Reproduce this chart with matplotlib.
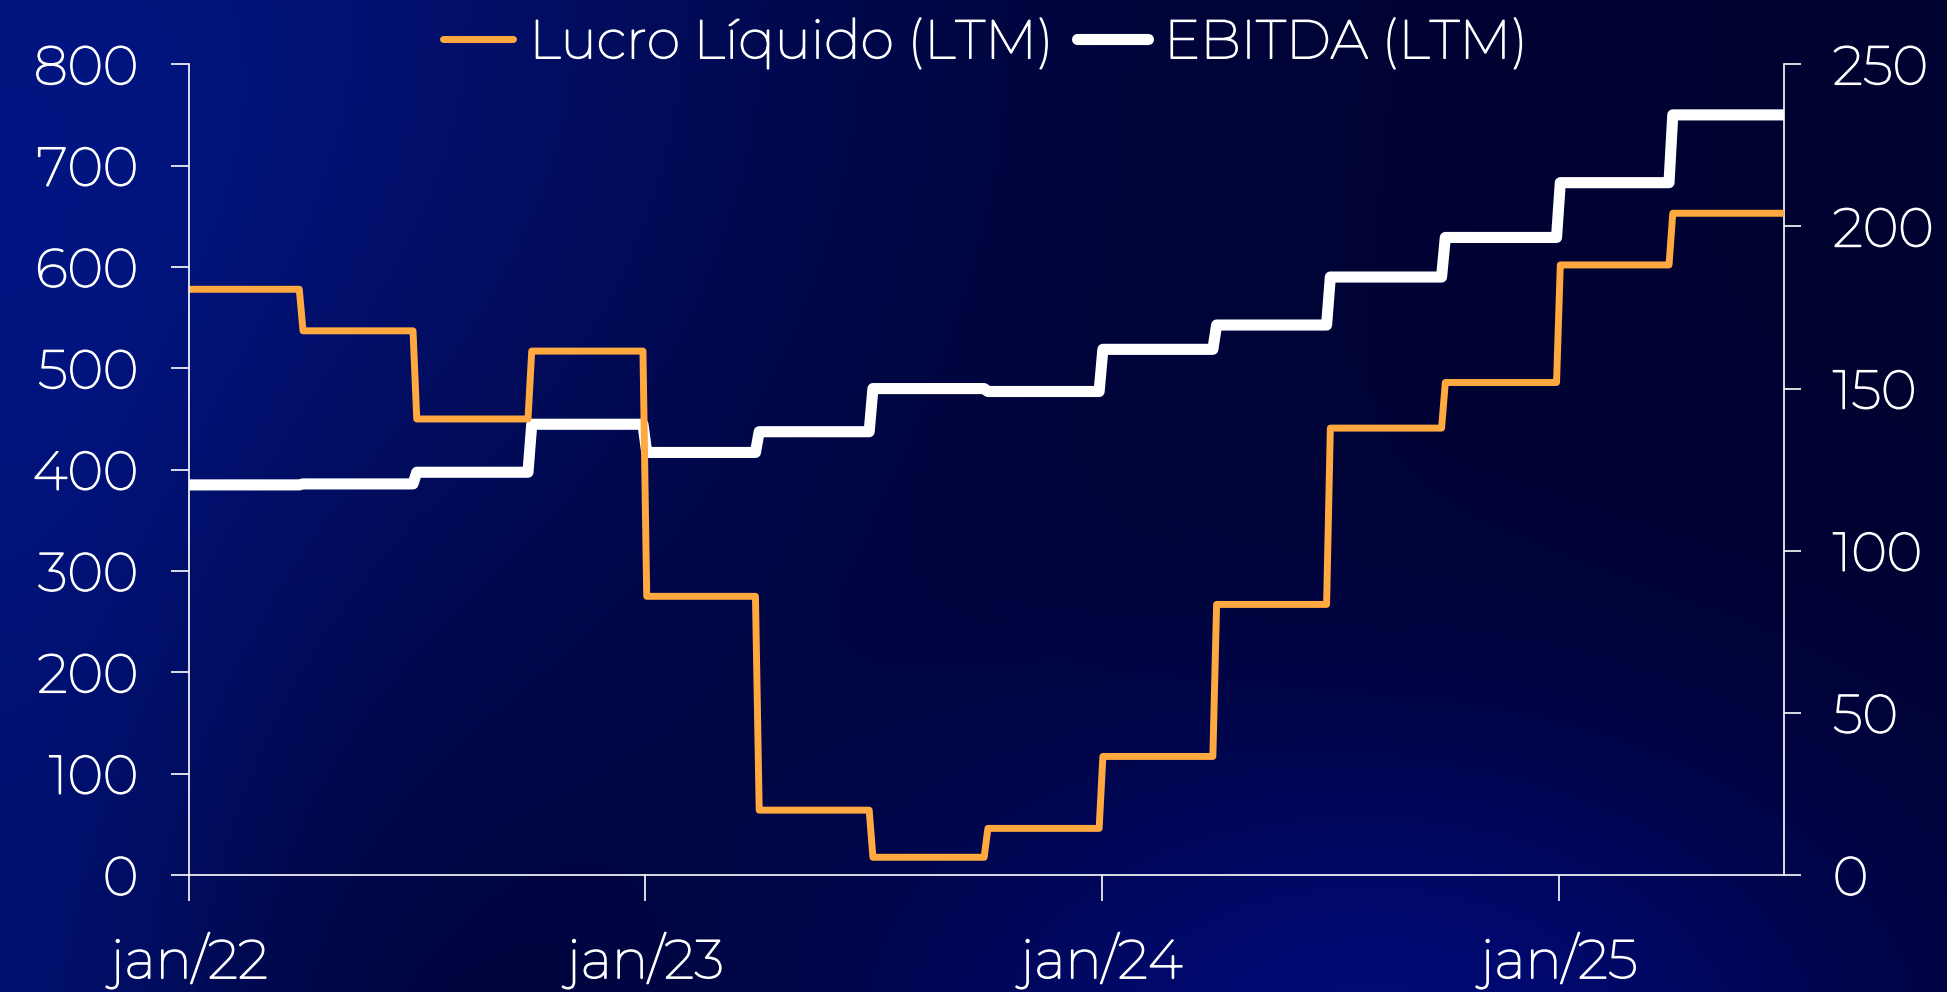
import numpy as np
import pandas as pd
import matplotlib
matplotlib.use("Agg")
import matplotlib.pyplot as plt
import matplotlib.patheffects as pe
from matplotlib import font_manager

# ---- data (R$ mn, last twelve months, quarterly) ----
quarter_starts = ["2022-01-01", "2022-04-01", "2022-07-01", "2022-10-01",
                  "2023-01-01", "2023-04-01", "2023-07-01", "2023-10-01",
                  "2024-01-01", "2024-04-01", "2024-07-01", "2024-10-01",
                  "2025-01-01", "2025-04-01"]
period_end = "2025-06-30"
lucro_liquido = [578, 537, 450, 517, 275, 64, 17.5, 46, 117, 267, 441, 486, 602, 653]
ebitda = [120.3, 120.6, 124.2, 139.0, 130.3, 136.7, 150.0, 149.1, 162.1, 169.6,
          184.4, 196.6, 213.5, 234.4]
x_ticks = ["2022-01-01", "2023-01-01", "2024-01-01", "2025-01-01"]
x_tick_labels = ["jan/22", "jan/23", "jan/24", "jan/25"]
left_ticks = [0, 100, 200, 300, 400, 500, 600, 700, 800]
right_ticks = [0, 50, 100, 150, 200, 250]
series_names = ["Lucro Líquido (LTM)", "EBITDA (LTM)"]

ORANGE = "#FFA940"
WHITE = "#FFFFFF"


# ---- font: a light geometric sans, closest weight to 300 ----
def pick_font():
    for fam in ["Montserrat", "Lato", "Open Sans", "Roboto", "Inter", "Noto Sans"]:
        ws = sorted({f.weight for f in font_manager.fontManager.ttflist
                     if f.name == fam and f.style == "normal"
                     and isinstance(f.weight, (int, float))})
        if ws:
            best = min(ws, key=lambda v: (abs(v - 330), v))
            return fam, best
    return "DejaVu Sans", "normal"


family, weight = pick_font()
plt.rcParams["font.family"] = [family, "DejaVu Sans"]
plt.rcParams["font.weight"] = weight
TEXT_FX = [pe.withStroke(linewidth=1.1, foreground=WHITE)]


def step_path(starts, end, values, lag_days=2):
    """Quarterly step line with short ramps between quarters."""
    s = pd.to_datetime(starts)
    e = list(s[1:] - pd.Timedelta(days=1)) + [pd.Timestamp(end)]
    xs, ys = [], []
    for i, v in enumerate(values):
        a = s[i] if i == 0 else s[i] + pd.Timedelta(days=lag_days - 1)
        b = e[i] if i == len(values) - 1 else e[i] - pd.Timedelta(days=lag_days - 1)
        xs += [a, b]
        ys += [v, v]
    return xs, ys


W, H, DPI = 1947, 992, 100
fig = plt.figure(figsize=(W / DPI, H / DPI), dpi=DPI)

# ---- navy gradient background ----
h, w = 248, 487
yy, xx = np.mgrid[0:h, 0:w]
px, py = xx * W / w, yy * H / h
img = np.zeros((h, w, 3))
img[:] = np.array([0, 2, 48]) / 255
g1 = np.exp(-((px / 820) ** 2 + (py / 780) ** 2))
g2 = np.exp(-(((px - 1380) / 520) ** 2 + ((py - 1050) / 330) ** 2))
g3 = np.exp(-((px / 260) ** 2)) * np.clip(py / H, 0, 1)
img += g1[..., None] * np.array([2, 18, 78]) / 255
img += g2[..., None] * np.array([0, 8, 70]) / 255
img += g3[..., None] * np.array([0, 10, 45]) / 255
img = np.clip(img, 0, 1)
bg = fig.add_axes([0, 0, 1, 1], zorder=-10)
bg.imshow(img, aspect="auto", extent=[0, 1, 0, 1], interpolation="bilinear")
bg.axis("off")

# ---- main axes ----
ax = fig.add_axes([189.3 / W, 1 - 875 / H, (1784 - 189.3) / W, (875 - 64.3) / H])
ax2 = ax.twinx()
ax.set_zorder(ax2.get_zorder() + 1)
ax.patch.set_visible(False)
ax2.patch.set_visible(False)

xo, yo = step_path(quarter_starts, period_end, lucro_liquido)
xw, yw = step_path(quarter_starts, period_end, ebitda)
l1, = ax.plot(xo, yo, color=ORANGE, lw=5.0, solid_joinstyle="round",
              solid_capstyle="butt", label=series_names[0])
l2, = ax2.plot(xw, yw, color=WHITE, lw=8.0, solid_joinstyle="round",
               solid_capstyle="butt", label=series_names[1])

ax.set_xlim(pd.Timestamp(quarter_starts[0]), pd.Timestamp(period_end))
ax.set_ylim(0, 800)
ax2.set_ylim(0, 250)

ax.set_xticks(pd.to_datetime(x_ticks))
ax.set_xticklabels(x_tick_labels)
ax.set_yticks(left_ticks)
ax2.set_yticks(right_ticks)

FS = 39
for a in (ax, ax2):
    for side in ("top", "left", "right", "bottom"):
        a.spines[side].set_visible(False)
    a.tick_params(colors=WHITE, labelsize=FS, width=1.2)
ax.spines["left"].set_visible(True)
ax.spines["bottom"].set_visible(True)
ax2.spines["right"].set_visible(True)
for sp in (ax.spines["left"], ax.spines["bottom"], ax2.spines["right"]):
    sp.set_color(WHITE)
    sp.set_linewidth(1.2)

ax.tick_params(axis="y", length=12.7, pad=24)
ax.tick_params(axis="x", length=18.5, pad=23)
ax2.tick_params(axis="y", length=12.2, pad=23)

for lab in ax.get_xticklabels() + ax.get_yticklabels() + ax2.get_yticklabels():
    lab.set_path_effects(TEXT_FX)

leg = ax.legend(handles=[l1, l2], loc="center", bbox_to_anchor=(0.506, 1 - 43 / H),
                bbox_transform=fig.transFigure, ncol=2, frameon=False,
                fontsize=FS, handlelength=1.3, handletextpad=0.3,
                columnspacing=0.45, labelcolor=WHITE)
for hl in leg.get_lines():
    hl.set_solid_capstyle("round")
for t in leg.get_texts():
    t.set_path_effects(TEXT_FX)

fig.savefig("out.png", dpi=DPI)
